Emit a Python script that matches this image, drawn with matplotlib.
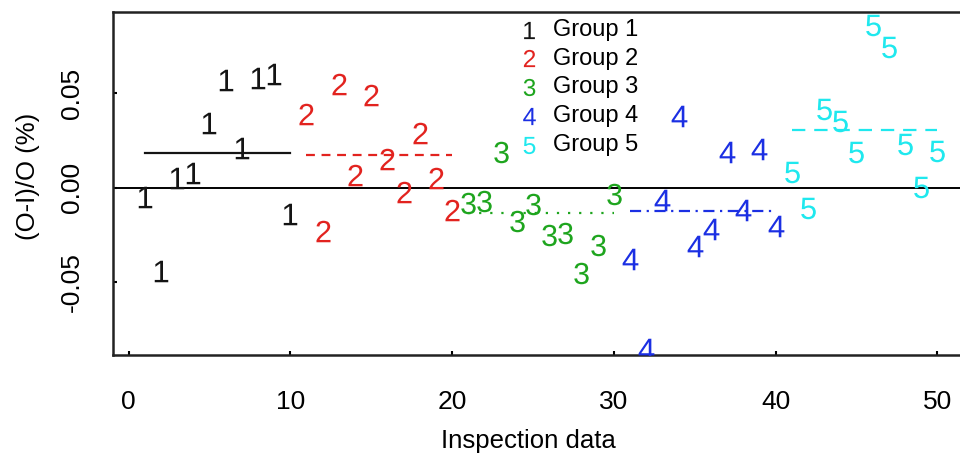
import numpy as np
import matplotlib
matplotlib.use("Agg")
import matplotlib.pyplot as plt

plt.rcParams['font.family'] = ['Liberation Sans', 'DejaVu Sans']
plt.rcParams['mathtext.fontset'] = 'custom'
plt.rcParams['mathtext.rm'] = 'Liberation Sans'
plt.rcParams['mathtext.it'] = 'Liberation Sans'

# inspection index and (O-I)/O values, 10 per group
x_data = np.arange(1, 51)
y_group1 = [-0.005, -0.044, 0.005, 0.008, 0.034, 0.057, 0.021, 0.058, 0.060, -0.014]
y_group2 = [0.039, -0.023, 0.055, 0.007, 0.049, 0.015, -0.002, 0.029, 0.005, -0.012]
y_group3 = [-0.008, -0.007, 0.019, -0.0175, -0.0085, -0.025, -0.024, -0.045, -0.030, -0.0035]
y_group4 = [-0.0376, -0.085, -0.0065, 0.038, -0.031, -0.022, 0.0187, -0.0118, 0.0204, -0.020]
y_group5 = [0.0081, -0.0107, 0.0418, 0.0355, 0.0187, 0.0857, 0.0742, 0.0232, 0.0002, 0.0196]

# group mean levels as drawn
group_means = [0.0185, 0.0174, -0.0134, -0.0122, 0.0307]

labels = ['Group 1', 'Group 2', 'Group 3', 'Group 4', 'Group 5']
colors = ['#141414', '#e2231f', '#1ea51e', '#1b2fe3', '#1fe8ee']
styles = ['-', (0, (4, 3)), (0, (1, 4)), (0, (5, 2.5, 1, 2.5)), (0, (6, 4))]

groups = [y_group1, y_group2, y_group3, y_group4, y_group5]

fig = plt.figure(figsize=(9.6, 4.57), dpi=100)
ax = fig.add_axes([113 / 960, 1 - 355 / 457, 1 - 113 / 960, (355 - 12) / 457])

ax.axhline(0, color='black', lw=1.4, zorder=1)

for i, yv in enumerate(groups):
    xs = x_data[i * 10:(i + 1) * 10]
    ax.scatter(xs, yv, marker=r'$\mathrm{%d}$' % (i + 1), s=15.5 ** 2,
               color=colors[i], linewidths=0, label=labels[i], zorder=3)
    ax.plot([xs[0], xs[-1]], [group_means[i], group_means[i]], color=colors[i],
            ls=styles[i], lw=1.6, zorder=2)

ax.set_xlim(-0.96, 51.4)
ax.set_ylim(-0.0883, 0.0928)
ax.set_xticks([0, 10, 20, 30, 40, 50])
ax.set_yticks([-0.05, 0.0, 0.05])
ax.set_yticklabels(['-0.05', '0.00', '0.05'], rotation=90, va='center')

ax.tick_params(direction='in', length=3, width=1.5, labelsize=19, colors='black')
ax.tick_params(axis='x', pad=25)
ax.tick_params(axis='y', pad=21)
for s in ['top', 'left', 'bottom']:
    ax.spines[s].set_linewidth(1.8)
    ax.spines[s].set_color('#222222')
ax.spines['right'].set_visible(False)

ax.set_xlabel('Inspection data', fontsize=18.5)
ax.set_ylabel('(O-I)/O (%)', fontsize=18.5)
ax.xaxis.set_label_coords(0.49, -0.215)
ax.yaxis.set_label_coords(-0.086, 0.52)

leg = ax.legend(loc='upper left', bbox_to_anchor=(505 / 960, 1 - 7 / 457),
                bbox_transform=fig.transFigure, frameon=False, fontsize=17,
                markerscale=0.8, handlelength=1.0, handletextpad=0.55,
                labelspacing=0.29, borderpad=0, scatterpoints=1)

plt.savefig('out.png', dpi=100)
